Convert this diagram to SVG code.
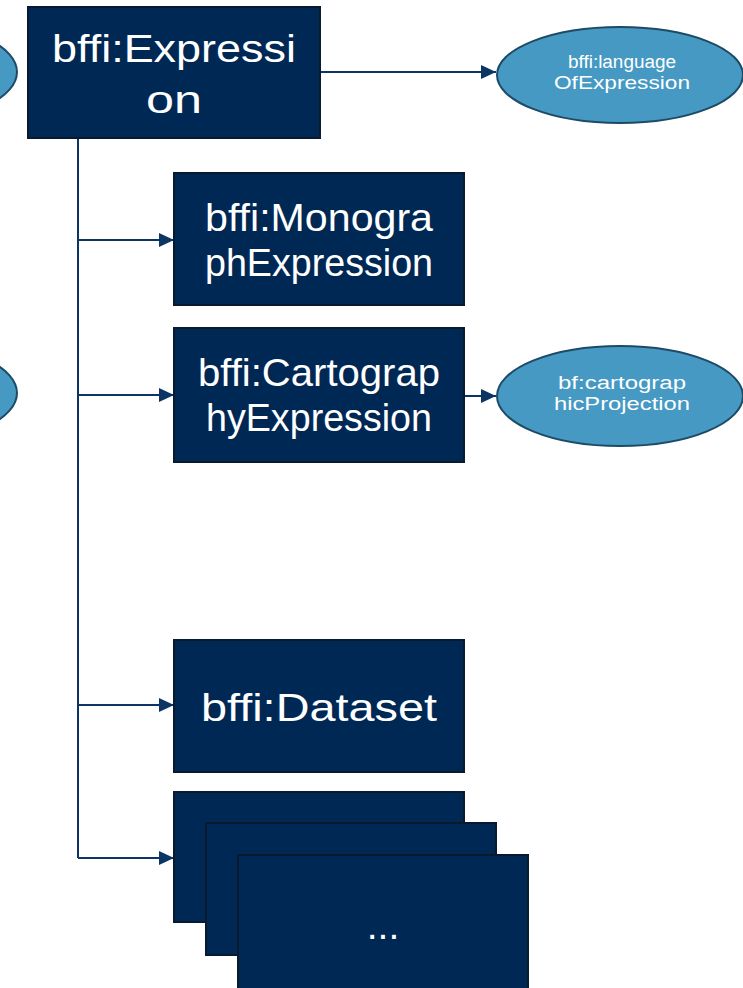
<svg xmlns="http://www.w3.org/2000/svg" width="743" height="988" viewBox="0 0 743 988">
<defs>
<marker id="ah" viewBox="0 0 10 10" refX="10" refY="5" markerWidth="7.5" markerHeight="7" markerUnits="strokeWidth" orient="auto" preserveAspectRatio="none">
<path d="M0,0 L10,5 L0,10 z" fill="#0d3563"/>
</marker>
<style>
.box{fill:#002855;stroke:#0a1a2e;stroke-width:2}
.ell{fill:#4599c3;stroke:#1d4a66;stroke-width:2}
.big{fill:#ffffff;font-family:"Liberation Sans",Arial,sans-serif;font-size:39px;text-anchor:middle}
.sm{fill:#ffffff;font-family:"Liberation Sans",Arial,sans-serif;font-size:18px;text-anchor:middle}
.con{fill:none;stroke:#0d3563;stroke-width:2}
</style>
</defs>
<rect width="743" height="988" fill="#ffffff"/>
<g id="connectors">
<line class="con" x1="320" y1="72" x2="496" y2="72" marker-end="url(#ah)"/>
<polyline class="con" points="78,138 78,858"/>
<line class="con" x1="78" y1="240" x2="174" y2="240" marker-end="url(#ah)"/>
<line class="con" x1="78" y1="395" x2="174" y2="395" marker-end="url(#ah)"/>
<line class="con" x1="78" y1="705" x2="174" y2="705" marker-end="url(#ah)"/>
<line class="con" x1="78" y1="858" x2="174" y2="858" marker-end="url(#ah)"/>
<line class="con" x1="464" y1="396" x2="496" y2="396" marker-end="url(#ah)"/>
</g>
<g id="left-ellipse-1"><ellipse class="ell" cx="-90" cy="72" rx="107" ry="48"/></g>
<g id="left-ellipse-2"><ellipse class="ell" cx="-90" cy="393" rx="107" ry="48"/></g>
<g id="expression">
<rect class="box" x="28" y="7" width="292" height="131"/>
<text class="big" x="174" y="62" textLength="244" lengthAdjust="spacingAndGlyphs">bffi:Expressi</text>
<text class="big" x="174" y="113" textLength="56" lengthAdjust="spacingAndGlyphs">on</text>
</g>
<g id="languageOfExpression">
<ellipse class="ell" cx="620" cy="75" rx="123" ry="48"/>
<text class="sm" x="622" y="68" textLength="108" lengthAdjust="spacingAndGlyphs">bffi:language</text>
<text class="sm" x="622" y="89" textLength="136" lengthAdjust="spacingAndGlyphs">OfExpression</text>
</g>
<g id="monographExpression">
<rect class="box" x="174" y="173" width="290" height="132"/>
<text class="big" x="319" y="231" textLength="228" lengthAdjust="spacingAndGlyphs">bffi:Monogra</text>
<text class="big" x="319" y="276" textLength="228" lengthAdjust="spacingAndGlyphs">phExpression</text>
</g>
<g id="cartographyExpression">
<rect class="box" x="174" y="328" width="290" height="134"/>
<text class="big" x="319" y="386" textLength="242" lengthAdjust="spacingAndGlyphs">bffi:Cartograp</text>
<text class="big" x="319" y="431" textLength="226" lengthAdjust="spacingAndGlyphs">hyExpression</text>
</g>
<g id="cartographicProjection">
<ellipse class="ell" cx="620" cy="396" rx="123" ry="50"/>
<text class="sm" x="622" y="389" textLength="128" lengthAdjust="spacingAndGlyphs">bf:cartograp</text>
<text class="sm" x="622" y="410" textLength="136" lengthAdjust="spacingAndGlyphs">hicProjection</text>
</g>
<g id="dataset">
<rect class="box" x="174" y="640" width="290" height="132"/>
<text class="big" x="319" y="721" font-size="41" textLength="236" lengthAdjust="spacingAndGlyphs">bffi:Dataset</text>
</g>
<g id="more">
<rect class="box" x="174" y="792" width="290" height="130"/>
<rect class="box" x="206" y="823" width="290" height="132"/>
<rect class="box" x="238" y="855" width="290" height="134"/>
<text class="big" x="383" y="939" font-size="30">...</text>
</g>
</svg>
